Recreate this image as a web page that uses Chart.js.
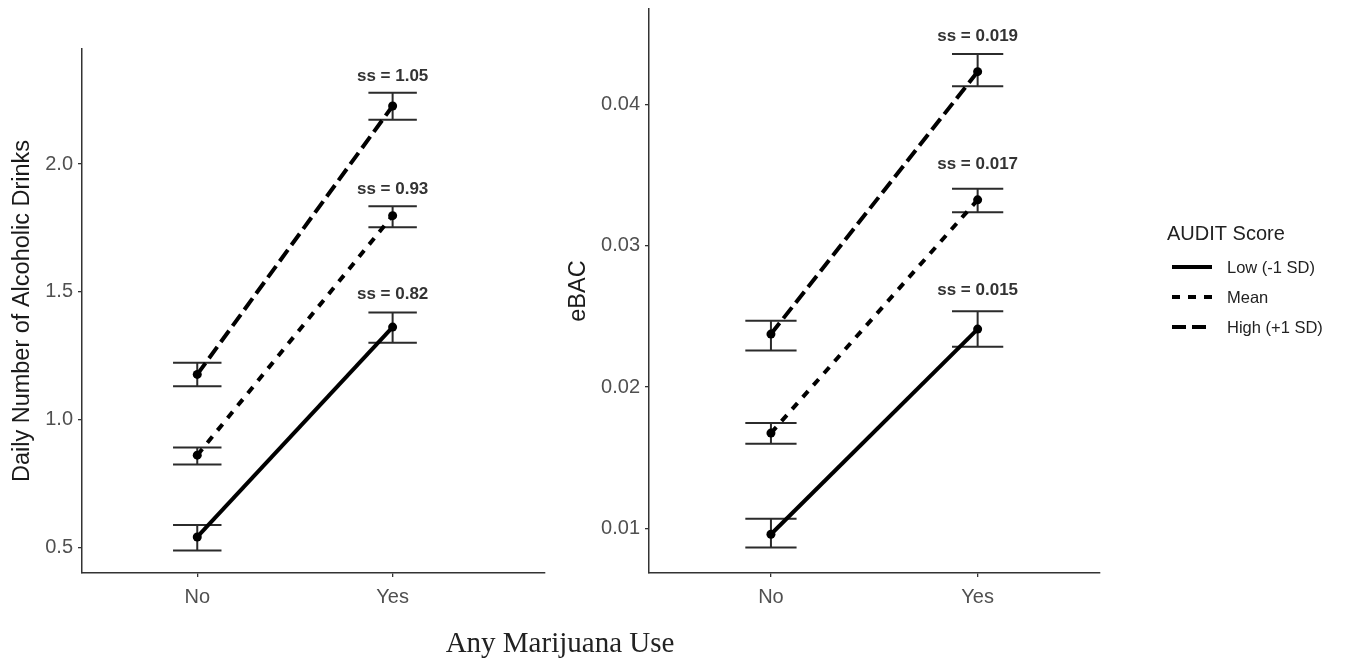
<!DOCTYPE html>
<html>
<head>
<meta charset="utf-8">
<script src="https://cdn.jsdelivr.net/npm/chart.js@4.4.1/dist/chart.umd.min.js"></script>
<style>
  html, body { margin: 0; padding: 0; background: #ffffff; width: 1345px; height: 664px; overflow: hidden; }
  #c1 { position: absolute; left: 0; top: 0; }
  #c2 { position: absolute; left: 560px; top: 0; }
  #xtitle { position: absolute; left: 360px; width: 400px; top: 624px; text-align: center;
            font-family: "Liberation Serif", "Times New Roman", serif; font-size: 29px; color: #222; line-height: 36px; }
</style>
</head>
<body>
<canvas id="c1" width="560" height="664"></canvas>
<canvas id="c2" width="785" height="664"></canvas>
<div id="xtitle">Any Marijuana Use</div>
<script>
// ---------- DATA ----------
const categories = ['No', 'Yes'];
const categoryX = [1, 2];
const seriesNames = ['Low (-1 SD)', 'Mean', 'High (+1 SD)'];

// Left panel: Daily Number of Alcoholic Drinks
const drinksLow      = [0.541, 1.362];
const drinksLowLo    = [0.488, 1.301];
const drinksLowHi    = [0.588, 1.419];
const drinksMean     = [0.861, 1.798];
const drinksMeanLo   = [0.824, 1.753];
const drinksMeanHi   = [0.891, 1.835];
const drinksHigh     = [1.177, 2.227];
const drinksHighLo   = [1.131, 2.173];
const drinksHighHi   = [1.223, 2.279];
const drinksSSText   = ['ss = 0.82', 'ss = 0.93', 'ss = 1.05'];
const drinksSSY      = [1.492, 1.902, 2.345];
const drinksTicks    = [0.5, 1.0, 1.5, 2.0];

// Right panel: eBAC
const ebacLow        = [0.0096, 0.0241];
const ebacLowLo      = [0.00866, 0.02285];
const ebacLowHi      = [0.01069, 0.02537];
const ebacMean       = [0.01675, 0.03324];
const ebacMeanLo     = [0.0160, 0.03237];
const ebacMeanHi     = [0.01746, 0.03402];
const ebacHigh       = [0.02375, 0.0423];
const ebacHighLo     = [0.02259, 0.04127];
const ebacHighHi     = [0.02469, 0.04355];
const ebacSSText     = ['ss = 0.015', 'ss = 0.017', 'ss = 0.019'];
const ebacSSY        = [0.02683, 0.03576, 0.04478];
const ebacTicks      = [0.01, 0.02, 0.03, 0.04];

// ---------- STYLES ----------
const dashes = [[], [8, 8], [14, 6]];
const LINE_W = 4;
const AXIS_COL = '#333333';
const TICK_COL = '#505050';
const FONT = '"Liberation Sans", Arial, sans-serif';

function pts(vals) { return vals.map((v, i) => ({ x: categoryX[i], y: v })); }

const errorBarPlugin = {
  id: 'errbars',
  beforeDatasetsDraw(chart, args, opts) {
    const { ctx } = chart;
    const x = chart.scales.x, y = chart.scales.y;
    ctx.save();
    ctx.strokeStyle = '#2b2b2b';
    ctx.lineWidth = 2;
    ctx.setLineDash([]);
    ctx.lineCap = 'butt';
    chart.data.datasets.forEach(ds => {
      ds.data.forEach((p, i) => {
        const px = x.getPixelForValue(p.x);
        const hw = x.getPixelForValue(p.x + opts.capHalf) - px;
        const lo = y.getPixelForValue(ds.errLo[i]);
        const hi = y.getPixelForValue(ds.errHi[i]);
        ctx.beginPath();
        ctx.moveTo(px, lo); ctx.lineTo(px, hi);
        ctx.moveTo(px - hw, lo); ctx.lineTo(px + hw, lo);
        ctx.moveTo(px - hw, hi); ctx.lineTo(px + hw, hi);
        ctx.stroke();
      });
    });
    ctx.restore();
  },
  afterDatasetsDraw(chart, args, opts) {
    const { ctx } = chart;
    const x = chart.scales.x, y = chart.scales.y;
    ctx.save();
    ctx.fillStyle = '#333333';
    ctx.font = 'bold 17px ' + FONT;
    ctx.textAlign = 'center';
    ctx.textBaseline = 'middle';
    opts.texts.forEach((t, i) => {
      ctx.fillText(t, x.getPixelForValue(opts.atX), y.getPixelForValue(opts.ys[i]));
    });
    ctx.restore();
  }
};

const legendPlugin = {
  id: 'auditLegend',
  afterDraw(chart, args, opts) {
    if (!opts.show) return;
    const { ctx } = chart;
    ctx.save();
    ctx.fillStyle = '#222222';
    ctx.textBaseline = 'middle';
    ctx.textAlign = 'left';
    ctx.font = '20px ' + FONT;
    ctx.fillText(opts.title, opts.x, opts.titleY);
    chart.data.datasets.forEach((ds, i) => {
      const yy = opts.itemY[i];
      ctx.strokeStyle = '#000';
      ctx.lineWidth = LINE_W;
      ctx.setLineDash(ds.borderDash || []);
      ctx.beginPath();
      ctx.moveTo(opts.x + 5, yy);
      ctx.lineTo(opts.x + 45, yy);
      ctx.stroke();
      ctx.setLineDash([]);
      ctx.font = '16.5px ' + FONT;
      ctx.fillStyle = '#222222';
      ctx.fillText(ds.label, opts.x + 60, yy + 1);
    });
    ctx.restore();
  }
};

function makePanel(id, cfg) {
  const sets = [
    { vals: cfg.low,  lo: cfg.lowLo,  hi: cfg.lowHi },
    { vals: cfg.mean, lo: cfg.meanLo, hi: cfg.meanHi },
    { vals: cfg.high, lo: cfg.highLo, hi: cfg.highHi }
  ];
  const datasets = sets.map((s, k) => ({
    label: seriesNames[k],
    data: pts(s.vals),
    errLo: s.lo,
    errHi: s.hi,
    showLine: true,
    borderColor: '#000000',
    backgroundColor: '#000000',
    borderWidth: LINE_W,
    borderDash: dashes[k],
    pointRadius: 4.5,
    pointBorderWidth: 0,
    pointBackgroundColor: '#000000',
    pointHoverRadius: 4.5
  }));
  return new Chart(document.getElementById(id), {
    type: 'scatter',
    data: { datasets },
    plugins: [errorBarPlugin, legendPlugin],
    options: {
      responsive: false,
      animation: false,
      events: [],
      layout: { padding: { top: cfg.padTop, right: cfg.padRight, left: 0, bottom: 0 } },
      plugins: {
        legend: { display: false },
        tooltip: { enabled: false },
        errbars: { capHalf: 0.124, texts: cfg.ssText, ys: cfg.ssY, atX: categoryX[1] },
        auditLegend: cfg.legend
      },
      scales: {
        x: {
          type: 'linear',
          min: cfg.xMin, max: cfg.xMax,
          afterBuildTicks: sc => { sc.ticks = categoryX.map(v => ({ value: v })); },
          afterFit: sc => { sc.height = cfg.xAxisH; sc.paddingLeft = 0; sc.paddingRight = 0; },
          ticks: {
            color: TICK_COL,
            font: { family: FONT, size: 20 },
            padding: 8,
            callback: v => categories[categoryX.indexOf(v)]
          },
          grid: { display: true, drawOnChartArea: false, tickLength: 4, color: AXIS_COL, lineWidth: 1.3 },
          border: { display: true, color: AXIS_COL, width: 1.5 }
        },
        y: {
          type: 'linear',
          min: cfg.yMin, max: cfg.yMax,
          afterBuildTicks: sc => { sc.ticks = cfg.ticks.map(v => ({ value: v })); },
          afterFit: sc => { sc.width = cfg.yAxisW; sc.paddingTop = 0; sc.paddingBottom = 0; },
          ticks: {
            color: TICK_COL,
            font: { family: FONT, size: 20 },
            padding: 5,
            callback: v => v.toFixed(cfg.decimals)
          },
          grid: { display: true, drawOnChartArea: false, tickLength: 4, color: AXIS_COL, lineWidth: 1.3 },
          border: { display: true, color: AXIS_COL, width: 1.5 },
          title: {
            display: true,
            text: cfg.yTitle,
            color: '#1a1a1a',
            font: { family: FONT, size: cfg.titleSize },
            padding: { top: cfg.titlePad, bottom: 0 }
          }
        }
      }
    }
  });
}

makePanel('c1', {
  low: drinksLow, lowLo: drinksLowLo, lowHi: drinksLowHi,
  mean: drinksMean, meanLo: drinksMeanLo, meanHi: drinksMeanHi,
  high: drinksHigh, highLo: drinksHighLo, highHi: drinksHighHi,
  ssText: drinksSSText, ssY: drinksSSY, ticks: drinksTicks, decimals: 1,
  yMin: 0.40, yMax: 2.45, xMin: 0.41, xMax: 2.78,
  padTop: 49, padRight: 15, xAxisH: 91, yAxisW: 82, titlePad: 8, titleSize: 23.5,
  yTitle: 'Daily Number of Alcoholic Drinks',
  legend: { show: false }
});

makePanel('c2', {
  low: ebacLow, lowLo: ebacLowLo, lowHi: ebacLowHi,
  mean: ebacMean, meanLo: ebacMeanLo, meanHi: ebacMeanHi,
  high: ebacHigh, highLo: ebacHighLo, highHi: ebacHighHi,
  ssText: ebacSSText, ssY: ebacSSY, ticks: ebacTicks, decimals: 2,
  yMin: 0.00686, yMax: 0.04673, xMin: 0.41, xMax: 2.592,
  padTop: 9, padRight: 245, xAxisH: 91, yAxisW: 89, titlePad: 4, titleSize: 23.5,
  yTitle: 'eBAC',
  legend: { show: true, title: 'AUDIT Score', x: 607, titleY: 234, itemY: [267, 297, 327] }
});
</script>
</body>
</html>
